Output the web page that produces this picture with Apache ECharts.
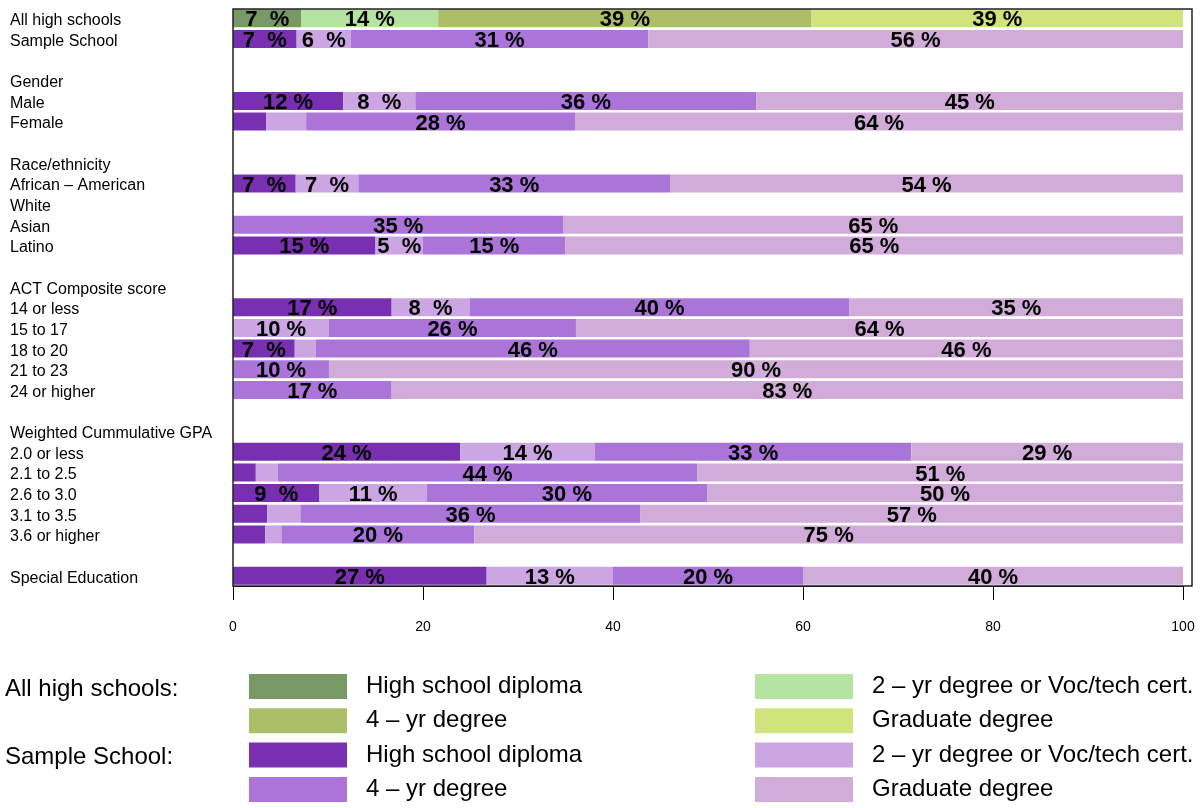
<!DOCTYPE html>
<html>
<head>
<meta charset="utf-8">
<script src="https://cdn.jsdelivr.net/npm/echarts@6/dist/echarts.min.js"></script>
<style>html,body{margin:0;padding:0;background:#fff}#c{width:1204px;height:808px}</style>
</head>
<body>
<div id="c"></div>
<script>
var categories = ["All high schools","Sample School","","Gender","Male","Female","","Race/ethnicity","African \u2013 American","White","Asian","Latino","","ACT Composite score","14 or less","15 to 17","18 to 20","21 to 23","24 or higher","","Weighted Cummulative GPA","2.0 or less","2.1 to 2.5","2.6 to 3.0","3.1 to 3.5","3.6 or higher","","Special Education"];

// All high schools (first row only)
var allHsDiploma = [7.2];
var allHsTwoYr   = [14.4];
var allHsFourYr  = [39.3];
var allHsGrad    = [39.1];

// Sample School rows (index aligned with categories)
var ssDiploma = [null,6.7,null,null,11.6,3.5,null,null,6.6,null,0,15.0,null,null,16.7,0,6.5,0,0,null,null,23.9,2.4,9.1,3.6,3.4,null,26.7];
var ssTwoYr   = [null,5.7,null,null,7.6,4.2,null,null,6.6,null,0,5.0,null,null,8.2,10.1,2.2,0,0,null,null,14.2,2.3,11.3,3.5,1.7,null,13.3];
var ssFourYr  = [null,31.3,null,null,35.9,28.3,null,null,32.8,null,34.8,15.0,null,null,40.0,26.0,45.7,10.1,16.7,null,null,33.3,44.2,29.5,35.8,20.3,null,20.0];
var ssGrad    = [null,56.3,null,null,44.9,64.0,null,null,54.0,null,65.2,65.0,null,null,35.1,63.9,45.6,89.9,83.3,null,null,28.6,51.1,50.1,57.1,74.6,null,40.0];

var xTicks = [0,20,40,60,80,100];

var seriesNames = [
  "All high schools: High school diploma","All high schools: 2 \u2013 yr degree or Voc/tech cert.",
  "All high schools: 4 \u2013 yr degree","All high schools: Graduate degree",
  "Sample School: High school diploma","Sample School: 2 \u2013 yr degree or Voc/tech cert.",
  "Sample School: 4 \u2013 yr degree","Sample School: Graduate degree"
];
var colors = ["#789868","#b4e4a0","#acbe68","#d0e47c","#7830b0","#cca6e2","#aa74d8","#d2acd8"];

function pad(arr){ var out = []; for (var i=0;i<categories.length;i++) out.push(i < arr.length ? arr[i] : null); return out; }
var seriesData = [pad(allHsDiploma),pad(allHsTwoYr),pad(allHsFourYr),pad(allHsGrad),ssDiploma,ssTwoYr,ssFourYr,ssGrad];

var labelFont = "'Liberation Sans Narrow','Liberation Sans',sans-serif";
function fmt(p){
  var v = p.value;
  if (v == null || v < 4.5) return '';
  var n = Math.round(v);
  return n < 10 ? n + '  %' : n + ' %';
}

var series = seriesData.map(function(d,i){
  return {
    name: seriesNames[i], type:'bar', stack:'total', data:d, barWidth:18,
    itemStyle:{color:colors[i]},
    label:{show:true, position:'inside', formatter:fmt, color:'#000', fontWeight:'bold',
           fontSize:22, fontFamily:labelFont, offset:[0,2]},
    emphasis:{disabled:true}, animation:false
  };
});

var legendFmt = function(name){ return name.split(': ')[1]; };
var legendText = {fontSize:24, fontFamily:labelFont, color:'#000', padding:[0,0,0,14]};

var chart = echarts.init(document.getElementById('c'), null, {renderer:'canvas'});
chart.setOption({
  animation:false,
  grid:{left:233, top:8, width:950, height:578, containLabel:false},
  xAxis:{type:'value', min:0, max:100, interval:20, position:'bottom',
    axisLine:{show:true, lineStyle:{color:'#000', width:1}},
    axisTick:{show:true, length:14, lineStyle:{color:'#000'}},
    axisLabel:{margin:34, fontSize:14, color:'#000', fontFamily:labelFont,
      formatter:function(v){ return xTicks.indexOf(v) >= 0 ? String(v) : ''; }},
    splitLine:{show:false}},
  yAxis:{type:'category', data:categories, inverse:true,
    axisLine:{show:false}, axisTick:{show:false},
    axisLabel:{interval:0, hideOverlap:false, align:'left', verticalAlign:'top', lineHeight:5,
      margin:223, fontSize:16, color:'#000',
      fontFamily:"'Liberation Sans',Arial,sans-serif"}},
  legend:[
    {orient:'vertical', left:249, top:674, padding:0, itemWidth:98, itemHeight:25, itemGap:9.3, icon:'rect',
     selectedMode:false, formatter:legendFmt, textStyle:legendText,
     data:[seriesNames[0],seriesNames[2],seriesNames[4],seriesNames[6]]},
    {orient:'vertical', left:755, top:674, padding:0, itemWidth:98, itemHeight:25, itemGap:9.3, icon:'rect',
     selectedMode:false, formatter:legendFmt, textStyle:legendText,
     data:[seriesNames[1],seriesNames[3],seriesNames[5],seriesNames[7]]}
  ],
  graphic:[
    {type:'rect', shape:{x:233, y:9, width:959, height:577}, style:{fill:null, stroke:'#222', lineWidth:1.5}, z:100, silent:true},
    {type:'text', left:5, top:677, style:{text:'All high schools:', font:"24px 'Liberation Sans Narrow','Liberation Sans',sans-serif", fill:'#000'}},
    {type:'text', left:5, top:745, style:{text:'Sample School:', font:"24px 'Liberation Sans Narrow','Liberation Sans',sans-serif", fill:'#000'}}
  ],
  series:series
});
</script>
</body>
</html>
